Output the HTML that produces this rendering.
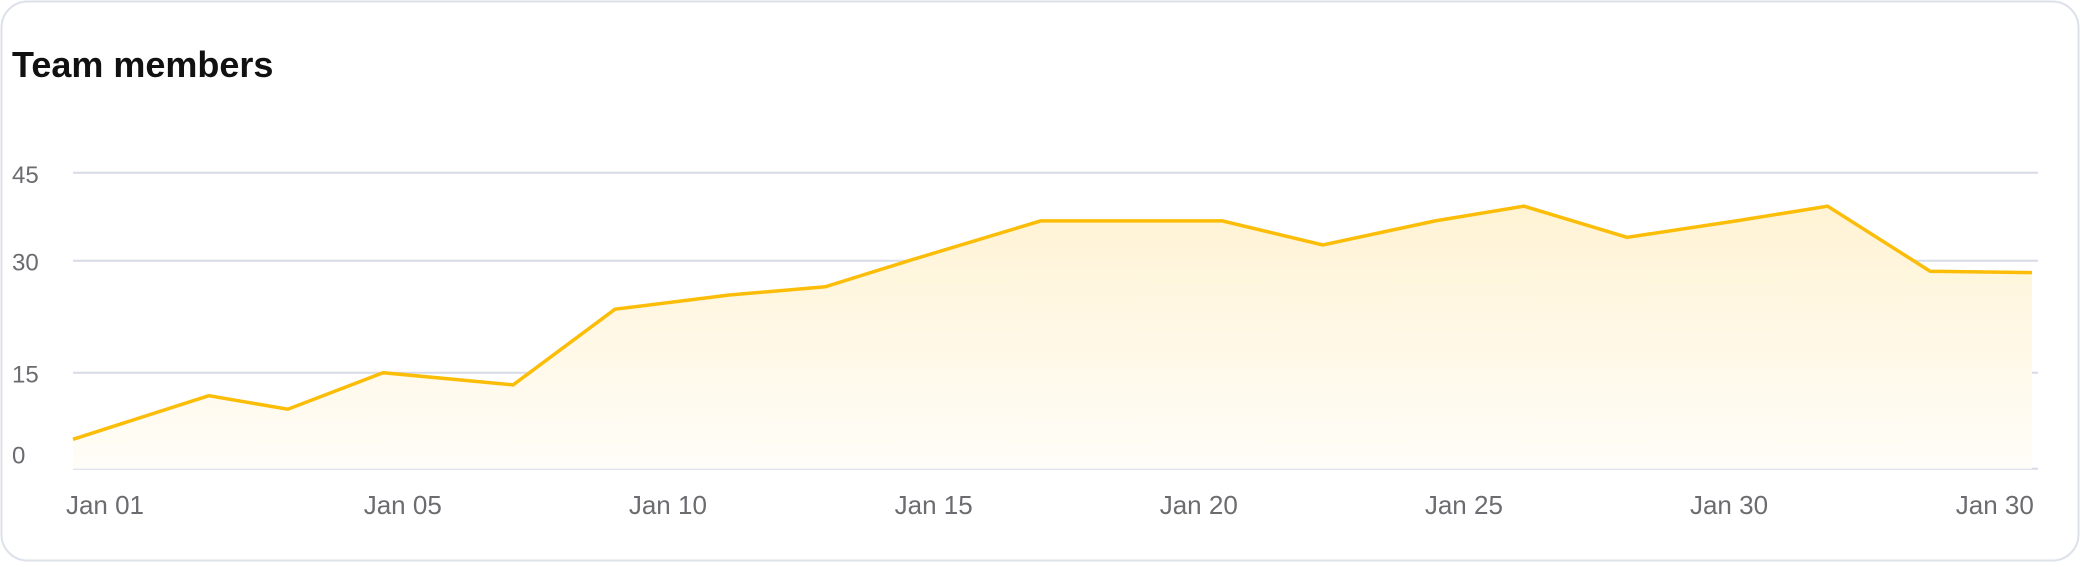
<!DOCTYPE html>
<html><head><meta charset="utf-8"><style>
html,body{margin:0;padding:0;background:#fff;}
body{width:2080px;height:562px;overflow:hidden;font-family:"Liberation Sans",sans-serif;}
</style></head><body>
<svg width="2080" height="562" viewBox="0 0 2080 562" xmlns="http://www.w3.org/2000/svg">
<defs><linearGradient id="fillGrad" x1="0" y1="0" x2="0" y2="1">
<stop offset="0" stop-color="#fff3d4"/><stop offset="1" stop-color="#fffdf8"/></linearGradient></defs>
<rect x="1.5" y="1.5" width="2077" height="559" rx="26" fill="#fff" stroke="#dde1ea" stroke-width="2"/>
<text x="12" y="77" font-size="36" font-weight="bold" fill="#111">Team members</text>
<g id="grid"></g><g id="area"></g><g id="ylabels"></g><g id="xlabels"></g>
</svg>
<script>
const yTicks=[0,15,30,45];
const yTickLabels=["0","15","30","45"];
const days=[0,2.08,3.29,4.75,6.74,8.30,10.05,11.52,12.83,14.82,17.60,19.14,20.86,22.22,23.80,25.47,26.87,28.44,30];
const members=[4.6,11.4,9.3,15,13.1,23.5,25.4,26.5,30.1,36.8,36.8,32.7,36.8,39.3,34,36.8,39.3,28.6,28.4];
const xTickLabels=["Jan 01","Jan 05","Jan 10","Jan 15","Jan 20","Jan 25","Jan 30","Jan 30"];
const xTickDays=[0.49,5.05,9.11,13.18,17.24,21.30,25.36,29.43];
const NS="http://www.w3.org/2000/svg";
const X0=73,X1=2032,GX1=2038;
const tickPix=[468.7,372.7,260.7,172.8];
function xs(d){return X0+d/30*(X1-X0);}
function ys(v){
  for(let i=0;i<yTicks.length-1;i++){
    if(v<=yTicks[i+1]||i===yTicks.length-2){
      const t=(v-yTicks[i])/(yTicks[i+1]-yTicks[i]);
      return tickPix[i]+t*(tickPix[i+1]-tickPix[i]);
    }
  }
}
function mk(tag,attrs,parent){const e=document.createElementNS(NS,tag);for(const k in attrs)e.setAttribute(k,attrs[k]);parent.appendChild(e);return e;}
const grid=document.getElementById('grid'),yl=document.getElementById('ylabels'),xl=document.getElementById('xlabels'),area=document.getElementById('area');
yTicks.forEach((v,i)=>{
  const y=ys(v);
  const l=mk('line',{x1:X0,x2:GX1,y1:y,y2:y,stroke:'#d6dbe5','stroke-width':2},grid);
  
  
  const t=mk('text',{x:12,y:(i===0?y-5:y+10),'font-size':24,fill:'#6b6b70'},yl);
  t.textContent=yTickLabels[i];
  
  
});
let pts=days.map((d,i)=>xs(d).toFixed(1)+','+ys(members[i]).toFixed(1));
const base=ys(0);
const fill=mk('path',{d:'M'+xs(days[0])+','+base+' L'+pts.join(' L')+' L'+xs(days[days.length-1])+','+base+' Z',fill:'url(#fillGrad)'},area);


const line=mk('polyline',{points:pts.join(' '),fill:'none',stroke:'#fbbd08','stroke-width':3.5,'stroke-linejoin':'miter'},area);


xTickLabels.forEach((s,i)=>{
  const t=mk('text',{x:xs(xTickDays[i]),y:514,'font-size':26,fill:'#6b6b70','text-anchor':'middle'},xl);
  t.textContent=s;
  
  
});
</script>
</body></html>
